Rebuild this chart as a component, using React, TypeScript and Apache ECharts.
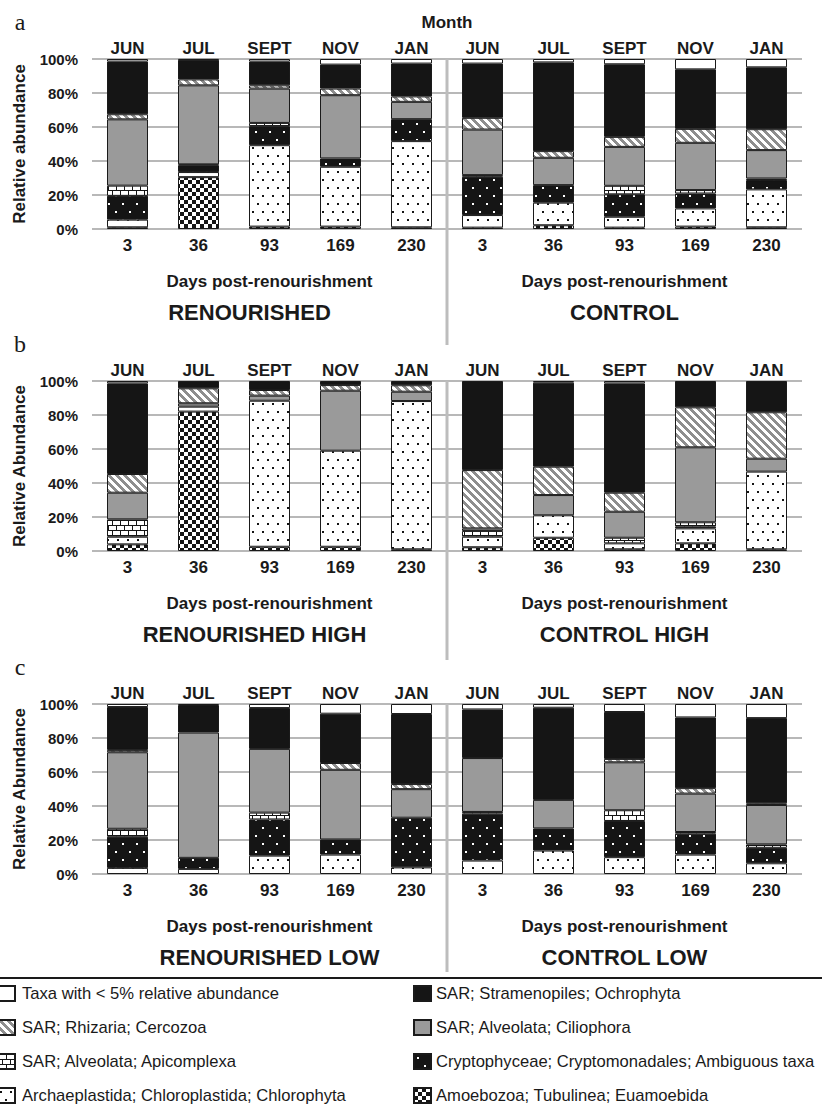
import React, { useEffect, useRef } from 'react';
import * as echarts from 'echarts';

// ---------- categories / labels ----------
const days = ['3', '36', '93', '169', '230', '3', '36', '93', '169', '230'];
const months = ['JUN', 'JUL', 'SEPT', 'NOV', 'JAN', 'JUN', 'JUL', 'SEPT', 'NOV', 'JAN'];
const panelLetters = ['a', 'b', 'c'];
const yNames = ['Relative abundance', 'Relative Abundance', 'Relative Abundance'];
const groupTitles = [
  ['RENOURISHED', 'CONTROL'],
  ['RENOURISHED HIGH', 'CONTROL HIGH'],
  ['RENOURISHED LOW', 'CONTROL LOW'],
];
const xTitle = 'Days post-renourishment';

// stacking order, bottom -> top
const taxa = [
  'Amoebozoa; Tubulinea; Euamoebida',
  'Archaeplastida; Chloroplastida; Chlorophyta',
  'Cryptophyceae; Cryptomonadales; Ambiguous taxa',
  'SAR; Alveolata; Apicomplexa',
  'SAR; Alveolata; Ciliophora',
  'SAR; Rhizaria; Cercozoa',
  'SAR; Stramenopiles; Ochrophyta',
  'Taxa with < 5% relative abundance',
];
const legendLeft = [taxa[7], taxa[5], taxa[3], taxa[1]];
const legendRight = [taxa[6], taxa[4], taxa[2], taxa[0]];

// ---------- panel a ----------
const aAmoebozoa = [1, 30.5, 1.4, 1.4, 1, 0.8, 2.2, 0.8, 1.4, 1];
const aChlorophyta = [4.5, 3, 47.9, 35.2, 50.7, 7.4, 13.3, 6.4, 10.7, 22.3];
const aCrypto = [14, 4, 11.2, 4.9, 12.9, 22.5, 10.3, 13.2, 8.8, 5.5];
const aApicomplexa = [6, 0.5, 1.9, 0, 0, 1, 0, 5, 2, 0.9];
const aCiliophora = [39, 46.5, 20.2, 37.2, 10.2, 26.8, 16.1, 22.9, 27.8, 16.7];
const aCercozoa = [3, 3.5, 1.9, 3.9, 3.2, 6.9, 3.9, 5.9, 8.2, 12.3];
const aOchrophyta = [31, 11.5, 14, 14.1, 19.3, 31.9, 52.2, 42.7, 35, 36.4];
const aOther = [1.5, 0.5, 1.5, 3.3, 2.7, 2.7, 2, 3.1, 6.1, 4.9];

// ---------- panel b ----------
const bAmoebozoa = [3.9, 82, 2.5, 2.5, 1, 2.2, 7.8, 1, 4.5, 1];
const bChlorophyta = [4.5, 2.9, 85.9, 56.5, 87.2, 6.2, 13.2, 3.5, 8.8, 45.7];
const bCrypto = [0, 0, 0, 0, 0, 0, 0, 0, 1, 0];
const bApicomplexa = [10.2, 0, 0, 0, 0, 3.4, 0, 3.3, 2.6, 0];
const bCiliophora = [15.7, 2, 3, 35.3, 5.5, 1.5, 11.9, 15.3, 44.1, 7.6];
const bCercozoa = [11, 8.8, 3.3, 3.3, 3.8, 34.3, 16.7, 11.2, 23.5, 27.3];
const bOchrophyta = [53.3, 4.3, 5.3, 2.4, 2.5, 52.4, 49.4, 64.3, 15.5, 18.4];
const bOther = [1.4, 0, 0, 0, 0, 0, 1, 1.4, 0, 0];

// ---------- panel c ----------
const cAmoebozoa = [0, 0, 0, 0, 0, 0, 0, 0, 0, 0];
const cChlorophyta = [3.6, 3, 10.8, 11.4, 3.9, 7.9, 13.8, 9.9, 11.4, 6.3];
const cCrypto = [18.3, 6.5, 21.3, 8.9, 29.2, 27.6, 13, 21.3, 12.3, 9.1];
const cApicomplexa = [4.7, 0, 4, 0, 0, 1, 0, 6.3, 1, 2];
const cCiliophora = [45, 73.7, 37.5, 41, 16.8, 31.7, 16.8, 28.2, 22.6, 23.2];
const cCercozoa = [1.4, 0, 0, 4, 3, 0, 0, 2, 3.2, 1];
const cOchrophyta = [25.2, 16.2, 24, 29, 41.2, 28.6, 54.2, 27.6, 41.6, 50.1];
const cOther = [1.8, 0.6, 2.4, 5.7, 5.9, 3.2, 2.2, 4.7, 7.9, 8.3];

const panels = [
  [aAmoebozoa, aChlorophyta, aCrypto, aApicomplexa, aCiliophora, aCercozoa, aOchrophyta, aOther],
  [bAmoebozoa, bChlorophyta, bCrypto, bApicomplexa, bCiliophora, bCercozoa, bOchrophyta, bOther],
  [cAmoebozoa, cChlorophyta, cCrypto, cApicomplexa, cCiliophora, cCercozoa, cOchrophyta, cOther],
];

const FONT = '"Liberation Sans", Arial, sans-serif';
const INK = '#1a1a1a';
const BLACK = '#151515';
const GRAY = '#9a9a9a';
const GRID_LEFT = 92;
const GRID_WIDTH = 710;
const GRID_TOPS = [59, 381, 704];
const GRID_HEIGHT = 170;
const TITLE_SHIFT = [-20, -15, 0];

function makePattern(w: number, h: number, draw: (ctx: CanvasRenderingContext2D) => void) {
  const c = document.createElement('canvas');
  c.width = w;
  c.height = h;
  const ctx = c.getContext('2d') as CanvasRenderingContext2D;
  draw(ctx);
  return { image: c.toDataURL(), repeat: 'repeat', imageWidth: w, imageHeight: h };
}

function buildPatterns() {
  const checker = makePattern(8, 8, (ctx) => {
    ctx.fillStyle = '#fff';
    ctx.fillRect(0, 0, 8, 8);
    ctx.fillStyle = BLACK;
    ctx.fillRect(0, 0, 4, 4);
    ctx.fillRect(4, 4, 4, 4);
  });
  const whiteDots = makePattern(10, 16, (ctx) => {
    ctx.fillStyle = '#fff';
    ctx.fillRect(0, 0, 10, 16);
    ctx.fillStyle = BLACK;
    ctx.fillRect(2, 3, 2, 2);
    ctx.fillRect(7, 11, 2, 2);
  });
  const blackDots = makePattern(14, 16, (ctx) => {
    ctx.fillStyle = BLACK;
    ctx.fillRect(0, 0, 14, 16);
    ctx.fillStyle = '#fff';
    ctx.fillRect(3, 3, 2, 2);
    ctx.fillRect(10, 11, 2, 2);
  });
  const brick = makePattern(16, 10, (ctx) => {
    ctx.fillStyle = '#fff';
    ctx.fillRect(0, 0, 16, 10);
    ctx.fillStyle = BLACK;
    ctx.fillRect(0, 0, 16, 1);
    ctx.fillRect(0, 5, 16, 1);
    ctx.fillRect(0, 0, 1, 5);
    ctx.fillRect(8, 0, 1, 5);
    ctx.fillRect(4, 5, 1, 5);
    ctx.fillRect(12, 5, 1, 5);
  });
  const hatch = makePattern(8, 8, (ctx) => {
    ctx.fillStyle = '#fff';
    ctx.fillRect(0, 0, 8, 8);
    ctx.fillStyle = '#8e8e8e';
    for (let x = 0; x < 8; x++) {
      for (let y = 0; y < 8; y++) {
        const d = (((x - y) % 8) + 8) % 8;
        if (d < 4) ctx.fillRect(x, y, 1, 1);
      }
    }
  });
  return [checker, whiteDots, blackDots, brick, GRAY, hatch, BLACK, '#ffffff'];
}

export default function App() {
  const ref = useRef<HTMLDivElement>(null);

  useEffect(() => {
    if (!ref.current) return;
    const chart = echarts.init(ref.current, null, { renderer: 'svg' });
    const fills = buildPatterns();

    const grid = GRID_TOPS.map((top) => ({
      left: GRID_LEFT,
      top,
      width: GRID_WIDTH,
      height: GRID_HEIGHT,
      containLabel: false,
    }));

    const xAxis: any[] = [];
    GRID_TOPS.forEach((_, p) => {
      xAxis.push({
        type: 'category',
        gridIndex: p,
        position: 'bottom',
        data: days,
        axisLine: { show: false },
        axisTick: { show: false },
        axisLabel: { margin: 8, fontSize: 17, fontWeight: 'bold', fontFamily: FONT, color: INK },
      });
      xAxis.push({
        type: 'category',
        gridIndex: p,
        position: 'top',
        data: months,
        axisLine: { show: false },
        axisTick: { show: false },
        axisLabel: { margin: 2, fontSize: 17, fontWeight: 'bold', fontFamily: FONT, color: INK },
      });
    });

    const yAxis = GRID_TOPS.map((_, p) => ({
      type: 'value',
      gridIndex: p,
      min: 0,
      max: 100,
      interval: 20,
      name: yNames[p],
      nameLocation: 'middle',
      nameGap: 64,
      nameTextStyle: { fontSize: 17, fontWeight: 'bold', fontFamily: FONT, color: INK },
      axisLine: { show: false },
      axisTick: { show: false },
      axisLabel: {
        margin: 14,
        fontSize: 15,
        fontWeight: 'bold',
        fontFamily: FONT,
        color: INK,
        formatter: (v: number) => v + '%',
      },
      splitLine: { show: true, lineStyle: { color: '#b8b8b8', width: 2 } },
    }));

    const series: any[] = [];
    panels.forEach((panel, p) => {
      panel.forEach((values, t) => {
        series.push({
          type: 'bar',
          name: taxa[t],
          xAxisIndex: p * 2,
          yAxisIndex: p,
          stack: 'panel' + p,
          barWidth: 41,
          silent: true,
          data: values.map((v) => (v === 0 ? null : v)),
          itemStyle: { color: fills[t], borderColor: INK, borderWidth: 1 },
          emphasis: { disabled: true },
        });
      });
    });

    const graphic: any[] = [];
    const textEl = (text: string, x: number, y: number, size: number, bold = true, family = FONT) => ({
      type: 'text',
      silent: true,
      style: {
        text,
        x,
        y,
        align: 'center',
        verticalAlign: 'middle',
        fontSize: size,
        fontWeight: bold ? 'bold' : 'normal',
        fontFamily: family,
        fill: INK,
      },
    });
    const leftCenter = GRID_LEFT + GRID_WIDTH / 4;
    const rightCenter = GRID_LEFT + (GRID_WIDTH * 3) / 4;
    const dividerX = GRID_LEFT + GRID_WIDTH / 2;
    const dividerSpans = [
      [59, 345],
      [381, 660],
      [704, 972],
    ];
    GRID_TOPS.forEach((top, p) => {
      const bottom = top + GRID_HEIGHT;
      graphic.push({
        type: 'rect',
        silent: true,
        z: 10,
        shape: { x: dividerX - 1.5, y: dividerSpans[p][0], width: 3, height: dividerSpans[p][1] - dividerSpans[p][0] },
        style: { fill: '#bdbdbd' },
      });
      graphic.push(textEl(panelLetters[p], 20, top - 37, 24, false, '"Liberation Serif", "Times New Roman", serif'));
      graphic.push(textEl(xTitle, leftCenter, bottom + 52, 17));
      graphic.push(textEl(xTitle, rightCenter, bottom + 52, 17));
      graphic.push(textEl(groupTitles[p][0], leftCenter + TITLE_SHIFT[p], bottom + 83, 22));
      graphic.push(textEl(groupTitles[p][1], rightCenter, bottom + 83, 22));
    });
    graphic.push(textEl('Month', dividerX, 22, 17));
    graphic.push({
      type: 'rect',
      silent: true,
      shape: { x: 0, y: 977, width: 822, height: 2 },
      style: { fill: INK },
    });

    const legendCommon = {
      orient: 'vertical',
      top: 985,
      height: 125,
      padding: 0,
      itemWidth: 17,
      itemHeight: 15,
      itemGap: 17,
      icon: 'rect',
      selectedMode: false,
      textStyle: { fontSize: 16.6, fontFamily: FONT, color: INK },
    };

    chart.setOption({
      animation: false,
      backgroundColor: '#ffffff',
      grid,
      xAxis,
      yAxis,
      series,
      graphic,
      legend: [
        { ...legendCommon, data: legendLeft, left: -3, textStyle: { ...legendCommon.textStyle, padding: [0, 0, 0, 2] } },
        { ...legendCommon, data: legendRight, left: 413 },
      ],
    });

    return () => chart.dispose();
  }, []);

  return (
    <div
      ref={ref}
      style={{ position: 'absolute', left: 0, top: 0, width: 822, height: 1105, background: '#fff' }}
    />
  );
}
